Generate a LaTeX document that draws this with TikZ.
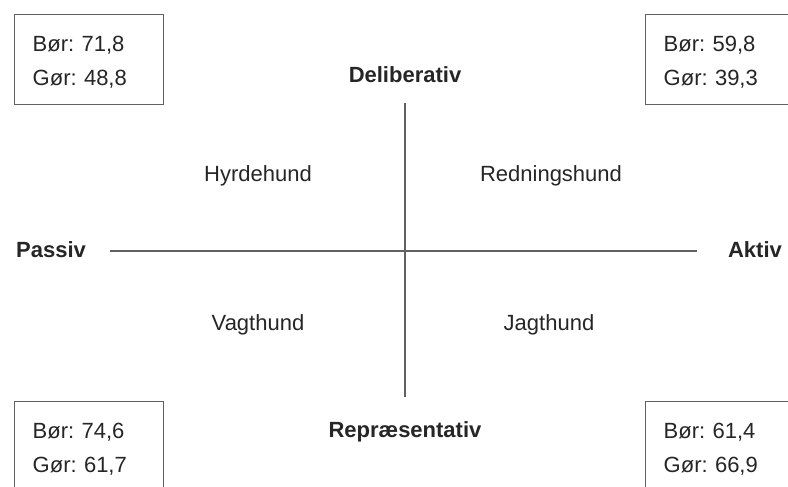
\documentclass[tikz,border=0pt]{standalone}
\usepackage{fontspec}
\setmainfont{Liberation Sans}
\frenchspacing
\definecolor{ink}{gray}{0.15}
\definecolor{rule}{gray}{0.38}
\tikzset{
  valbox/.style={draw=rule, line width=1.4pt, anchor=north west, align=left,
    minimum width=149pt, minimum height=90pt, inner xsep=18pt, text=ink,
    font=\fontsize{22pt}{34pt}\selectfont, text width=113pt, text height=21pt},
  pole/.style={anchor=base, text=ink, font=\fontsize{22pt}{26pt}\selectfont\bfseries},
  kind/.style={anchor=base, text=ink, font=\fontsize{22pt}{26pt}\selectfont},
  axis/.style={draw=rule, line width=1.2pt}
}
\begin{document}
\begin{tikzpicture}[x=1pt, y=-1pt]
      \clip (0,0) rectangle (788,487);
      \fill[white] (0,0) rectangle (788,487);
      \node[valbox] (nw) at (14,14) {Bør: 71,8\\Gør: 48,8};
      \node[valbox] (ne) at (645,14) {Bør: 59,8\\Gør: 39,3};
      \node[valbox] (sw) at (14,401) {Bør: 74,6\\Gør: 61,7};
      \node[valbox] (se) at (645,401) {Bør: 61,4\\Gør: 66,9};
      \draw
        (405,83) node[pole] (delib){Deliberativ}
        (405,437) node[pole] (repr){Repræsentativ}
        (51,257) node[pole] (passiv){Passiv}
        (755,257) node[pole] (aktiv){Aktiv}
        (258,181) node[kind] (hyrde){Hyrdehund}
        (551,181) node[kind] (redning){Redningshund}
        (258,330) node[kind] (vagt){Vagthund}
        (549,330) node[kind] (jagt){Jagthund};
      \coordinate (top) at (405,103);
      \coordinate (bottom) at (405,397);
      \coordinate (left) at (110,251);
      \coordinate (right) at (697,251);
      \begin{scope}[axis]
        \draw (left) to (right);
        \draw (top) to (bottom);
      \end{scope}
    \end{tikzpicture}
\end{document}
